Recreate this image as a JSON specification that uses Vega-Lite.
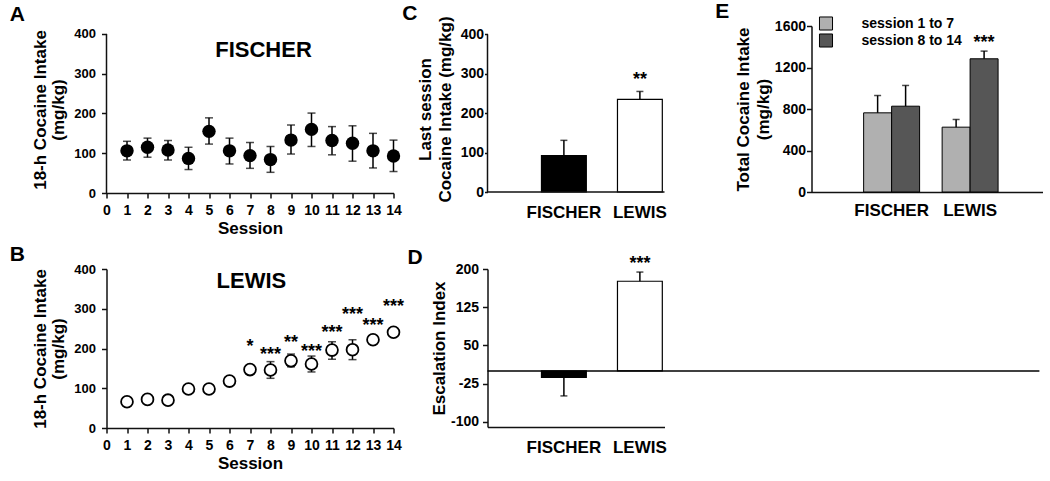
{
 "$schema": "https://vega.github.io/schema/vega-lite/v6.json",
 "background": "white",
 "padding": {"left": 9.5, "top": 0, "right": 2, "bottom": 2},
 "config": {
  "font": "Liberation Sans",
  "view": {"stroke": null},
  "axis": {"labelFontWeight": "bold", "labelFontSize": 13, "labelColor": "black", "titleFontWeight": "bold", "titleFontSize": 17, "titleColor": "black", "domainColor": "#111", "domainWidth": 1.5, "tickColor": "#111", "tickWidth": 1.5, "tickSize": 5, "grid": false, "labelPadding": 3, "titlePadding": 3, "labelOverlap": false},
  "title": {"fontSize": 21, "fontWeight": "bold", "color": "black", "anchor": "start", "frame": "bounds"}
 },
 "datasets": {
  "fischer": [
   {"session": 1, "mean": 106, "lo": 83, "hi": 130},
   {"session": 2, "mean": 115, "lo": 90, "hi": 138},
   {"session": 3, "mean": 108, "lo": 83, "hi": 132},
   {"session": 4, "mean": 87, "lo": 59, "hi": 115},
   {"session": 5, "mean": 155, "lo": 123, "hi": 189},
   {"session": 6, "mean": 106, "lo": 73, "hi": 138},
   {"session": 7, "mean": 94, "lo": 62, "hi": 127},
   {"session": 8, "mean": 84, "lo": 52, "hi": 117},
   {"session": 9, "mean": 133, "lo": 98, "hi": 171},
   {"session": 10, "mean": 160, "lo": 117, "hi": 201},
   {"session": 11, "mean": 132, "lo": 96, "hi": 167},
   {"session": 12, "mean": 125, "lo": 80, "hi": 169},
   {"session": 13, "mean": 106, "lo": 63, "hi": 150},
   {"session": 14, "mean": 93, "lo": 54, "hi": 133}
  ],
  "lewis": [
   {"session": 1, "mean": 66, "lo": 66, "hi": 66},
   {"session": 2, "mean": 72, "lo": 72, "hi": 72},
   {"session": 3, "mean": 70, "lo": 70, "hi": 70},
   {"session": 4, "mean": 98, "lo": 98, "hi": 98},
   {"session": 5, "mean": 98, "lo": 98, "hi": 98},
   {"session": 6, "mean": 118, "lo": 118, "hi": 118},
   {"session": 7, "mean": 147, "lo": 147, "hi": 147},
   {"session": 8, "mean": 146, "lo": 125, "hi": 167},
   {"session": 9, "mean": 169, "lo": 154, "hi": 186},
   {"session": 10, "mean": 161, "lo": 141, "hi": 181},
   {"session": 11, "mean": 196, "lo": 173, "hi": 217},
   {"session": 12, "mean": 197, "lo": 172, "hi": 222},
   {"session": 13, "mean": 222, "lo": 222, "hi": 222},
   {"session": 14, "mean": 241, "lo": 241, "hi": 241}
  ],
  "lewisStars": [
   {"session": 7, "y": 213, "label": "*"},
   {"session": 8, "y": 193, "label": "***"},
   {"session": 9, "y": 223, "label": "**"},
   {"session": 10, "y": 201, "label": "***"},
   {"session": 11, "y": 248, "label": "***"},
   {"session": 12, "y": 294, "label": "***"},
   {"session": 13, "y": 266, "label": "***"},
   {"session": 14, "y": 315, "label": "***"}
  ],
  "last": [
   {"strain": "FISCHER", "mean": 92, "hi": 131},
   {"strain": "LEWIS", "mean": 235, "hi": 255}
  ],
  "lastStars": [{"strain": "LEWIS", "y": 293, "label": "**"}],
  "esc": [
   {"strain": "FISCHER", "mean": -12.5, "err": -49},
   {"strain": "LEWIS", "mean": 176, "err": 194}
  ],
  "escStars": [{"strain": "LEWIS", "y": 217, "label": "***"}],
  "total": [
   {"strain": "FISCHER", "period": "session 1 to 7", "mean": 763, "hi": 930},
   {"strain": "FISCHER", "period": "session 8 to 14", "mean": 827, "hi": 1027},
   {"strain": "LEWIS", "period": "session 1 to 7", "mean": 625, "hi": 699},
   {"strain": "LEWIS", "period": "session 8 to 14", "mean": 1284, "hi": 1358}
  ],
  "totalStars": [{"strain": "LEWIS", "period": "session 8 to 14", "y": 1474, "label": "***"}]
 },
 "spacing": 8,
 "resolve": {"scale": {"color": "independent", "fill": "independent"}, "legend": {"color": "independent", "fill": "independent"}},
 "vconcat": [
  {
   "spacing": 0,
   "resolve": {"scale": {"color": "independent", "fill": "independent"}, "legend": {"color": "independent", "fill": "independent"}},
   "hconcat": [
    {
     "title": {"text": "A", "dx": -22, "offset": 1.5},
     "width": 287, "height": 167,
     "layer": [
      {"data": {"name": "fischer"}, "mark": {"type": "rule", "color": "black", "strokeWidth": 1.5},
       "encoding": {
        "x": {"field": "session", "type": "quantitative", "scale": {"domain": [0, 14], "nice": false}, "axis": {"values": [0,1,2,3,4,5,6,7,8,9,10,11,12,13,14], "tickCount": 30, "format": "d", "title": "Session", "labelFontSize": 14, "labelFlush": false, "labelOverlap": false, "labelPadding": 5}},
        "y": {"field": "lo", "type": "quantitative", "scale": {"domain": [0, 420], "nice": false}, "axis": {"values": [0,100,200,300,400], "tickCount": 20, "format": "d", "domain": false, "labelOverlap": false, "title": ["18-h Cocaine Intake", "(mg/kg)"], "titleLineHeight": 18, "labelPadding": 6, "titlePadding": 6}}, "y2": {"field": "hi"}}},
      {"data": {"name": "fischer"}, "mark": {"type": "tick", "orient": "horizontal", "color": "black", "size": 8, "thickness": 1.5},
       "encoding": {"x": {"field": "session", "type": "quantitative"}, "y": {"field": "hi", "type": "quantitative"}}},
      {"data": {"name": "fischer"}, "mark": {"type": "tick", "orient": "horizontal", "color": "black", "size": 8, "thickness": 1.5},
       "encoding": {"x": {"field": "session", "type": "quantitative"}, "y": {"field": "lo", "type": "quantitative"}}},
      {"data": {"name": "fischer"}, "mark": {"type": "point", "shape": "circle", "filled": true, "color": "black", "size": 180, "opacity": 1},
       "encoding": {"x": {"field": "session", "type": "quantitative"}, "y": {"field": "mean", "type": "quantitative"}}},
      {"data": {"values": [{}]}, "mark": {"type": "rule", "color": "#111", "strokeWidth": 1.5},
       "encoding": {"x": {"datum": 0}, "y": {"datum": 0}, "y2": {"datum": 400}}},
      {"data": {"values": [{}]}, "mark": {"type": "text", "text": "FISCHER", "color": "black", "fontSize": 22, "fontWeight": "bold", "baseline": "middle", "align": "center"},
       "encoding": {"x": {"datum": 7.66}, "y": {"datum": 359}}}
     ]
    },
    {
     "title": {"text": "C", "dx": -14, "offset": -8},
     "width": 227, "height": 166,
     "layer": [
      {"data": {"name": "last"}, "mark": {"type": "bar", "stroke": "black", "strokeWidth": 1.2},
       "encoding": {
        "x": {"field": "strain", "type": "nominal", "sort": null, "scale": {"domain": ["FISCHER", "LEWIS"], "paddingInner": 0.41, "paddingOuter": 0.6984, "align": 0.5084}, "axis": {"title": null, "labelAngle": 0, "ticks": false, "domain": false, "labelFontSize": 17, "labelPadding": 12}},
        "y": {"field": "mean", "type": "quantitative", "scale": {"domain": [0, 421], "nice": false}, "axis": {"values": [0,100,200,300,400], "tickCount": 20, "format": "d", "domain": false, "labelOverlap": false, "title": ["Last session", "Cocaine Intake (mg/kg)"], "titleLineHeight": 20, "labelFontSize": 14, "tickSize": 3, "labelPadding": 1, "titlePadding": 6}},
        "fill": {"field": "strain", "type": "nominal", "scale": {"domain": ["FISCHER", "LEWIS"], "range": ["black", "white"]}, "legend": null}
       }},
      {"data": {"name": "last"}, "mark": {"type": "rule", "color": "black", "strokeWidth": 1.5},
       "encoding": {"x": {"field": "strain", "type": "nominal"}, "y": {"field": "mean", "type": "quantitative"}, "y2": {"field": "hi"}}},
      {"data": {"name": "last"}, "mark": {"type": "tick", "color": "black", "size": 7, "thickness": 1.5},
       "encoding": {"x": {"field": "strain", "type": "nominal"}, "y": {"field": "hi", "type": "quantitative"}}},
      {"data": {"values": [{}]}, "mark": {"type": "rule", "color": "#111", "strokeWidth": 1.5},
       "encoding": {"x": {"datum": "FISCHER", "bandPosition": -1.2036}, "y": {"datum": 0}, "y2": {"datum": 400}}},
      {"data": {"values": [{}]}, "mark": {"type": "rule", "color": "#111", "strokeWidth": 1.5},
       "encoding": {"x": {"datum": "FISCHER", "bandPosition": -1.2036}, "x2": {"datum": "LEWIS", "bandPosition": 1.0488}, "y": {"datum": 0}}},
      {"data": {"name": "lastStars"}, "mark": {"type": "text", "fontSize": 18, "fontWeight": "bold", "baseline": "middle", "dy": 4},
       "encoding": {"x": {"field": "strain", "type": "nominal"}, "y": {"field": "y", "type": "quantitative"}, "text": {"field": "label"}}}
     ]
    },
    {
     "title": {"text": "E", "dx": -19, "offset": -5.5},
     "width": 231, "height": 166,
     "layer": [
      {"data": {"name": "total"}, "mark": {"type": "bar", "stroke": "black", "strokeWidth": 1},
       "encoding": {
        "x": {"field": "strain", "type": "nominal", "sort": null, "scale": {"domain": ["FISCHER", "LEWIS"], "paddingInner": 0.287, "paddingOuter": 0.615, "align": 0.54}, "axis": {"title": null, "labelAngle": 0, "ticks": false, "labelFontSize": 17, "labelPadding": 10}},
        "xOffset": {"field": "period", "type": "nominal", "sort": null, "scale": {"domain": ["session 1 to 7", "session 8 to 14"]}},
        "y": {"field": "mean", "type": "quantitative", "scale": {"domain": [0, 1600], "nice": false}, "axis": {"values": [0,400,800,1200,1600], "tickCount": 20, "labelExpr": "'' + datum.value", "labelOverlap": false, "title": ["Total Cocaine Intake", "(mg/kg)"], "titleLineHeight": 20, "labelFontSize": 14, "labelPadding": 1, "titlePadding": 2}},
        "color": {"field": "period", "type": "nominal", "sort": null, "scale": {"domain": ["session 1 to 7", "session 8 to 14"], "range": ["#b0b0b0", "#565656"]},
         "legend": {"orient": "none", "legendX": 7, "legendY": -10, "title": null, "symbolType": "square", "symbolSize": 170, "symbolStrokeColor": "black", "symbolStrokeWidth": 1, "symbolOpacity": 1, "labelFontSize": 14, "labelFontWeight": "bold", "labelColor": "black", "labelOffset": 28, "rowPadding": -2}}
       }},
      {"data": {"name": "total"}, "mark": {"type": "rule", "color": "black", "strokeWidth": 1.5},
       "encoding": {"x": {"field": "strain", "type": "nominal"}, "xOffset": {"field": "period", "type": "nominal"}, "y": {"field": "mean", "type": "quantitative"}, "y2": {"field": "hi"}}},
      {"data": {"name": "total"}, "mark": {"type": "tick", "color": "black", "size": 7, "thickness": 1.5},
       "encoding": {"x": {"field": "strain", "type": "nominal"}, "xOffset": {"field": "period", "type": "nominal"}, "y": {"field": "hi", "type": "quantitative"}}},
      {"data": {"name": "totalStars"}, "mark": {"type": "text", "fontSize": 18, "fontWeight": "bold", "baseline": "middle", "dy": 4},
       "encoding": {"x": {"field": "strain", "type": "nominal"}, "xOffset": {"field": "period", "type": "nominal"}, "y": {"field": "y", "type": "quantitative"}, "text": {"field": "label"}}}
     ]
    }
   ]
  },
  {
   "spacing": 2,
   "resolve": {"scale": {"color": "independent", "fill": "independent"}, "legend": {"color": "independent", "fill": "independent"}},
   "hconcat": [
    {
     "title": {"text": "B", "dx": -22, "offset": -2},
     "width": 287, "height": 159,
     "layer": [
      {"data": {"name": "lewis"}, "mark": {"type": "rule", "color": "black", "strokeWidth": 1.5},
       "encoding": {
        "x": {"field": "session", "type": "quantitative", "scale": {"domain": [0, 14], "nice": false}, "axis": {"values": [0,1,2,3,4,5,6,7,8,9,10,11,12,13,14], "tickCount": 30, "format": "d", "title": "Session", "labelFontSize": 14, "labelFlush": false, "labelOverlap": false, "labelPadding": 5}},
        "y": {"field": "lo", "type": "quantitative", "scale": {"domain": [0, 400], "nice": false}, "axis": {"values": [0,100,200,300,400], "tickCount": 20, "format": "d", "labelOverlap": false, "title": ["18-h Cocaine Intake", "(mg/kg)"], "titleLineHeight": 18, "labelPadding": 6, "titlePadding": 6}}, "y2": {"field": "hi"}}},
      {"data": {"name": "lewis"}, "mark": {"type": "tick", "orient": "horizontal", "color": "black", "size": 8, "thickness": 1.5},
       "encoding": {"x": {"field": "session", "type": "quantitative"}, "y": {"field": "hi", "type": "quantitative"}}},
      {"data": {"name": "lewis"}, "mark": {"type": "tick", "orient": "horizontal", "color": "black", "size": 8, "thickness": 1.5},
       "encoding": {"x": {"field": "session", "type": "quantitative"}, "y": {"field": "lo", "type": "quantitative"}}},
      {"data": {"name": "lewis"}, "mark": {"type": "point", "shape": "circle", "filled": true, "fill": "white", "stroke": "black", "strokeWidth": 1.8, "size": 140, "opacity": 1},
       "encoding": {"x": {"field": "session", "type": "quantitative"}, "y": {"field": "mean", "type": "quantitative"}}},
      {"data": {"name": "lewisStars"}, "mark": {"type": "text", "fontSize": 18, "fontWeight": "bold", "baseline": "middle", "dy": 4},
       "encoding": {"x": {"field": "session", "type": "quantitative"}, "y": {"field": "y", "type": "quantitative"}, "text": {"field": "label"}}},
      {"data": {"values": [{}]}, "mark": {"type": "text", "text": "LEWIS", "color": "black", "fontSize": 22, "fontWeight": "bold", "baseline": "middle", "align": "center"},
       "encoding": {"x": {"datum": 7.07}, "y": {"datum": 371}}}
     ]
    },
    {
     "title": {"text": "D", "dx": -23, "offset": -13},
     "width": 177, "height": 158,
     "layer": [
      {"data": {"name": "esc"}, "mark": {"type": "bar", "stroke": "black", "strokeWidth": 1.2},
       "encoding": {
        "x": {"field": "strain", "type": "nominal", "sort": null, "scale": {"domain": ["FISCHER", "LEWIS"], "paddingInner": 0.41, "paddingOuter": 0.3695, "align": 0.961}, "axis": {"title": null, "labelAngle": 0, "ticks": false, "labelFontSize": 17, "labelPadding": 12}},
        "y": {"field": "mean", "type": "quantitative", "scale": {"domain": [-110, 200], "nice": false, "zero": false}, "axis": {"values": [-100,-25,50,125,200], "tickCount": 20, "labelExpr": "'' + datum.value", "labelOverlap": false, "title": "Escalation Index", "labelFontSize": 14, "labelPadding": 4, "titlePadding": 2}},
        "fill": {"field": "strain", "type": "nominal", "scale": {"domain": ["FISCHER", "LEWIS"], "range": ["black", "white"]}, "legend": null}
       }},
      {"data": {"name": "esc"}, "mark": {"type": "rule", "color": "black", "strokeWidth": 1.5},
       "encoding": {"x": {"field": "strain", "type": "nominal"}, "y": {"field": "mean", "type": "quantitative"}, "y2": {"field": "err"}}},
      {"data": {"name": "esc"}, "mark": {"type": "tick", "color": "black", "size": 7, "thickness": 1.5},
       "encoding": {"x": {"field": "strain", "type": "nominal"}, "y": {"field": "err", "type": "quantitative"}}},
      {"data": {"values": [{}]}, "mark": {"type": "rule", "color": "black", "strokeWidth": 1.5},
       "encoding": {"x": {"datum": "FISCHER", "bandPosition": -1.2036}, "x2": {"datum": "LEWIS", "bandPosition": 9.41}, "y": {"datum": 0}}},
      {"data": {"name": "escStars"}, "mark": {"type": "text", "fontSize": 18, "fontWeight": "bold", "baseline": "middle", "dy": 4},
       "encoding": {"x": {"field": "strain", "type": "nominal"}, "y": {"field": "y", "type": "quantitative"}, "text": {"field": "label"}}}
     ]
    }
   ]
  }
 ]
}
